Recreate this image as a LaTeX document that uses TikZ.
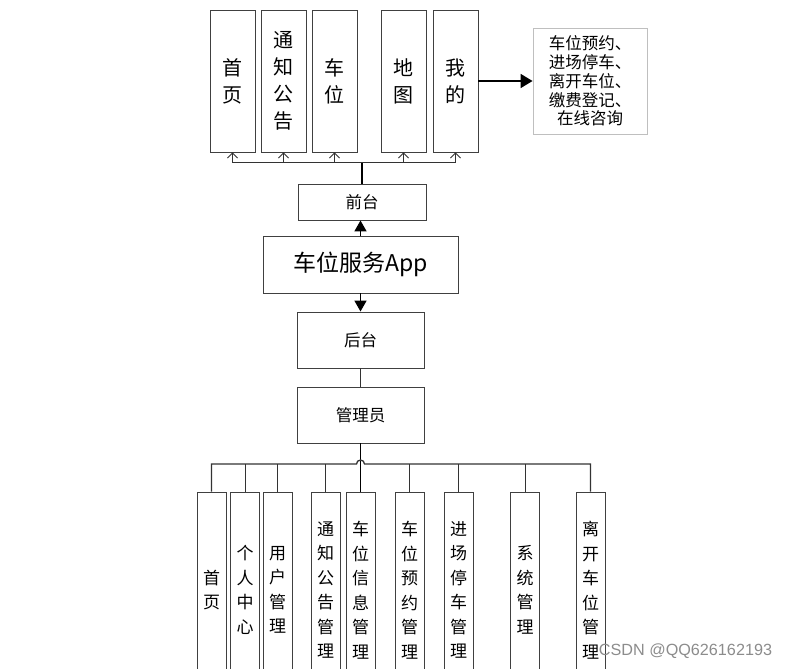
\documentclass[tikz,border=0pt]{standalone}
\usepackage{fontspec}
\newfontfamily\cjk{Noto Sans CJK SC}
\newfontfamily\wmfont{Liberation Sans}
\usetikzlibrary{arrows.meta}

\begin{document}
\begin{tikzpicture}[x=1pt,y=-1pt,
    box/.style={draw=black!75, line width=0.9pt, inner sep=0pt, align=center, fill=white},
    topcol/.style={box, minimum width=45pt, minimum height=142pt, font=\cjk\fontsize{20}{27}\selectfont},
    botcol/.style={box, minimum width=29pt, minimum height=196pt, font=\cjk\fontsize{17}{24.5}\selectfont},
    midbox/.style={box, minimum width=127pt, minimum height=56pt, font=\cjk\fontsize{16.5}{20}\selectfont},
    thinline/.style={draw=black!80, line width=0.9pt},
    thickline/.style={draw=black, line width=1.8pt},
    openarrow/.style={thinline, -{Straight Barb[length=5pt,width=10pt]}},
    bigarrow/.style={thickline, -{Triangle[length=12pt,width=14pt]}}]
    \useasboundingbox (0,0) rectangle (788,669);
    \clip (0,0) rectangle (788,669);

    % --- TOP (FRONT END) ---
    \node[topcol] (sy) at (232.5,81) {首\\页};
    \node[topcol] (tz) at (283.5,81) {通\\知\\公\\告};
    \node[topcol] (cw) at (334.5,81) {车\\位};
    \node[topcol] (dt) at (403.5,81) {地\\图};
    \node[topcol] (wd) at (455.5,81) {我\\的};
    \node[draw=black!25, line width=0.9pt, fill=white, inner sep=0pt, align=center,
          minimum width=114pt, minimum height=106pt,
          font=\cjk\fontsize{16.5}{18.8}\selectfont] (info) at (590,81)
          {车位预约、\\进场停车、\\离开车位、\\缴费登记、\\在线咨询};
    \node[midbox, minimum width=128pt, minimum height=36pt] (qt) at (362,202) {前台};

    \coordinate (tbus) at (362,162);
    \draw[thickline] (qt.north) -- (tbus);
    \draw[openarrow] (tbus) -| (sy.south);
    \draw[openarrow] (tbus) -| (tz.south);
    \draw[openarrow] (tbus) -| (cw.south);
    \draw[openarrow] (tbus) -| (dt.south);
    \draw[openarrow] (tbus) -| (wd.south);
    \draw[bigarrow] (wd.east) -- (info.west);

    % --- MIDDLE ---
    \node[box, minimum width=195pt, minimum height=57pt, font=\cjk\fontsize{23}{28}\selectfont] (app) at (360.5,264.5) {车位服务App};
    \node[midbox] (ht) at (360.5,340) {后台};
    \node[midbox] (gly) at (360.5,415) {管理员};
    \draw[thickline, -{Triangle[length=11pt,width=12pt]}] (app.north) -- (app.north |- qt.south);
    \draw[thickline, -{Triangle[length=11pt,width=12pt]}] (app.south) -- (ht.north);
    \draw[thinline] (ht.south) -- (gly.north);

    % --- BOTTOM (BACK END) ---
    \node[botcol] (b1) at (211.5,590) {首\\页};
    \node[botcol] (b2) at (245,590) {个\\人\\中\\心};
    \node[botcol] (b3) at (277.5,590) {用\\户\\管\\理};
    \node[botcol] (b4) at (325.5,590) {通\\知\\公\\告\\管\\理};
    \node[botcol] (b5) at (360.5,590) {车\\位\\信\\息\\管\\理};
    \node[botcol] (b6) at (409.5,590) {车\\位\\预\\约\\管\\理};
    \node[botcol] (b7) at (458.5,590) {进\\场\\停\\车\\管\\理};
    \node[botcol] (b8) at (525,590) {系\\统\\管\\理};
    \node[botcol] (b9) at (590.5,590) {离\\开\\车\\位\\管\\理};

    \coordinate (bbus) at (360.5,464);
    \draw[thickline] (gly.south) -- (b5.north);
    \draw[thinline, line width=1.3pt] (b1.north) -- (b1.north |- bbus) -- (356.5,464)
        arc[start angle=180, end angle=360, radius=4] -- (b9.north |- bbus) -- (b9.north);
    \draw[thinline] (b2.north) -- (b2.north |- bbus);
    \draw[thinline] (b3.north) -- (b3.north |- bbus);
    \draw[thinline] (b4.north) -- (b4.north |- bbus);
    \draw[thinline] (b6.north) -- (b6.north |- bbus);
    \draw[thinline] (b7.north) -- (b7.north |- bbus);
    \draw[thinline] (b8.north) -- (b8.north |- bbus);

    \node[text=black!45, font=\wmfont\fontsize{16.2}{19}\selectfont] (wm) at (685.5,651) {CSDN @QQ626162193};
\end{tikzpicture}
\end{document}
